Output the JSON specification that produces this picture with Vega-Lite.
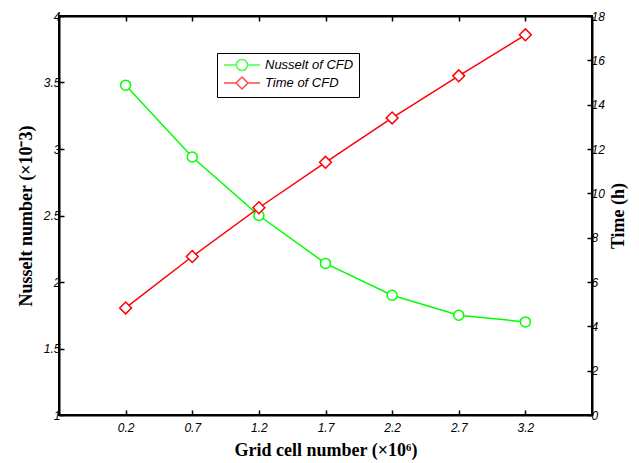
{
  "$schema": "https://vega.github.io/schema/vega-lite/v6.json",
  "width": 533,
  "height": 399,
  "autosize": {"type": "none"},
  "padding": {"left": 59, "top": 16, "right": 47, "bottom": 48},
  "background": "white",
  "config": {
    "view": {"stroke": "black", "strokeWidth": 2},
    "axis": {
      "grid": false,
      "domainColor": "black",
      "domainWidth": 2,
      "tickColor": "black",
      "tickWidth": 1.5,
      "tickSize": -5,
      "labelFont": "Liberation Sans",
      "labelFontStyle": "italic",
      "labelFontSize": 12,
      "labelColor": "black",
      "labelOverlap": false,
      "titleFont": "Liberation Serif",
      "titleFontWeight": "bold",
      "titleFontSize": 18,
      "titleColor": "black"
    }
  },
  "datasets": {
    "nusselt": [
      {"grid": 0.2, "nu": 3.48},
      {"grid": 0.7, "nu": 2.94},
      {"grid": 1.2, "nu": 2.5},
      {"grid": 1.7, "nu": 2.14},
      {"grid": 2.2, "nu": 1.9},
      {"grid": 2.7, "nu": 1.75},
      {"grid": 3.2, "nu": 1.7}
    ],
    "time": [
      {"grid": 0.2, "time": 4.83},
      {"grid": 0.7, "time": 7.15},
      {"grid": 1.2, "time": 9.35},
      {"grid": 1.7, "time": 11.4},
      {"grid": 2.2, "time": 13.4},
      {"grid": 2.7, "time": 15.3},
      {"grid": 3.2, "time": 17.15}
    ],
    "legend": [
      {"series": "Nusselt of CFD"},
      {"series": "Time of CFD"}
    ]
  },
  "layer": [
    {
      "data": {"name": "nusselt"},
      "mark": {
        "type": "line",
        "color": "#00ff00",
        "strokeWidth": 1.5,
        "point": {"filled": true, "fill": "white", "stroke": "#00ff00", "strokeWidth": 1.5, "shape": "circle", "size": 100}
      },
      "encoding": {
        "x": {
          "field": "grid", "type": "quantitative",
          "scale": {"domain": [-0.3, 3.7], "nice": false, "zero": false},
          "axis": {"orient": "bottom", "values": [0.2, 0.7, 1.2, 1.7, 2.2, 2.7, 3.2], "format": ".1f", "labelPadding": 12, "titlePadding": 8, "title": "Grid cell number (×10⁶)"}
        },
        "y": {
          "field": "nu", "type": "quantitative",
          "scale": {"domain": [1, 4], "nice": false, "zero": false},
          "axis": {"orient": "left", "values": [1, 1.5, 2, 2.5, 3, 3.5, 4], "format": "~g", "labelPadding": 4, "titlePadding": 8, "title": "Nusselt number (×10⁻3)"}
        }
      }
    },
    {
      "data": {"name": "time"},
      "mark": {
        "type": "line",
        "color": "#ff0000",
        "strokeWidth": 1.5,
        "point": {"filled": true, "fill": "white", "stroke": "#ff0000", "strokeWidth": 1.5, "shape": "diamond", "size": 140}
      },
      "encoding": {
        "x": {
          "field": "grid", "type": "quantitative",
          "scale": {"domain": [-0.3, 3.7], "nice": false, "zero": false},
          "axis": {"orient": "top", "values": [0.2, 0.7, 1.2, 1.7, 2.2, 2.7, 3.2], "labels": false, "title": null}
        },
        "y": {
          "field": "time", "type": "quantitative",
          "scale": {"domain": [0, 18], "nice": false, "zero": false},
          "axis": {"orient": "right", "values": [0, 2, 4, 6, 8, 10, 12, 14, 16, 18], "labelPadding": 4, "titlePadding": 5, "titleAngle": 270, "titleBaseline": "top", "title": "Time (h)"}
        }
      }
    },
    {
      "data": {"name": "legend"},
      "transform": [{"filter": "false"}],
      "mark": {"type": "point", "filled": false, "strokeWidth": 1.5},
      "encoding": {
        "color": {
          "field": "series", "type": "nominal",
          "scale": {"domain": ["Nusselt of CFD", "Time of CFD"], "range": ["#00ff00", "#ff0000"]},
          "legend": {"title": null, "orient": "none", "legendX": 158, "legendY": 37, "strokeColor": "black", "fillColor": "white", "padding": 5, "symbolSize": 144, "symbolOffset": 13, "symbolStrokeWidth": 1.5, "labelFont": "Liberation Sans", "labelFontStyle": "italic", "labelFontSize": 13, "labelColor": "black", "labelOffset": 16, "rowPadding": 0}
        },
        "shape": {
          "field": "series", "type": "nominal",
          "scale": {"domain": ["Nusselt of CFD", "Time of CFD"], "range": ["M-3,0H-0.92M0.92,0H3M0.92,0A0.92,0.92 0 1,1 -0.92,0A0.92,0.92 0 1,1 0.92,0", "M-3,0H-1M1,0H3M1,0L0,-1L-1,0L0,1Z"]},
          "legend": {"title": null, "orient": "none", "legendX": 158, "legendY": 37, "strokeColor": "black", "fillColor": "white", "padding": 5, "symbolSize": 144, "symbolOffset": 13, "symbolStrokeWidth": 1.5, "labelFont": "Liberation Sans", "labelFontStyle": "italic", "labelFontSize": 13, "labelColor": "black", "labelOffset": 16, "rowPadding": 0}
        }
      }
    }
  ],
  "resolve": {"scale": {"y": "independent"}, "axis": {"x": "independent", "y": "independent"}}
}
